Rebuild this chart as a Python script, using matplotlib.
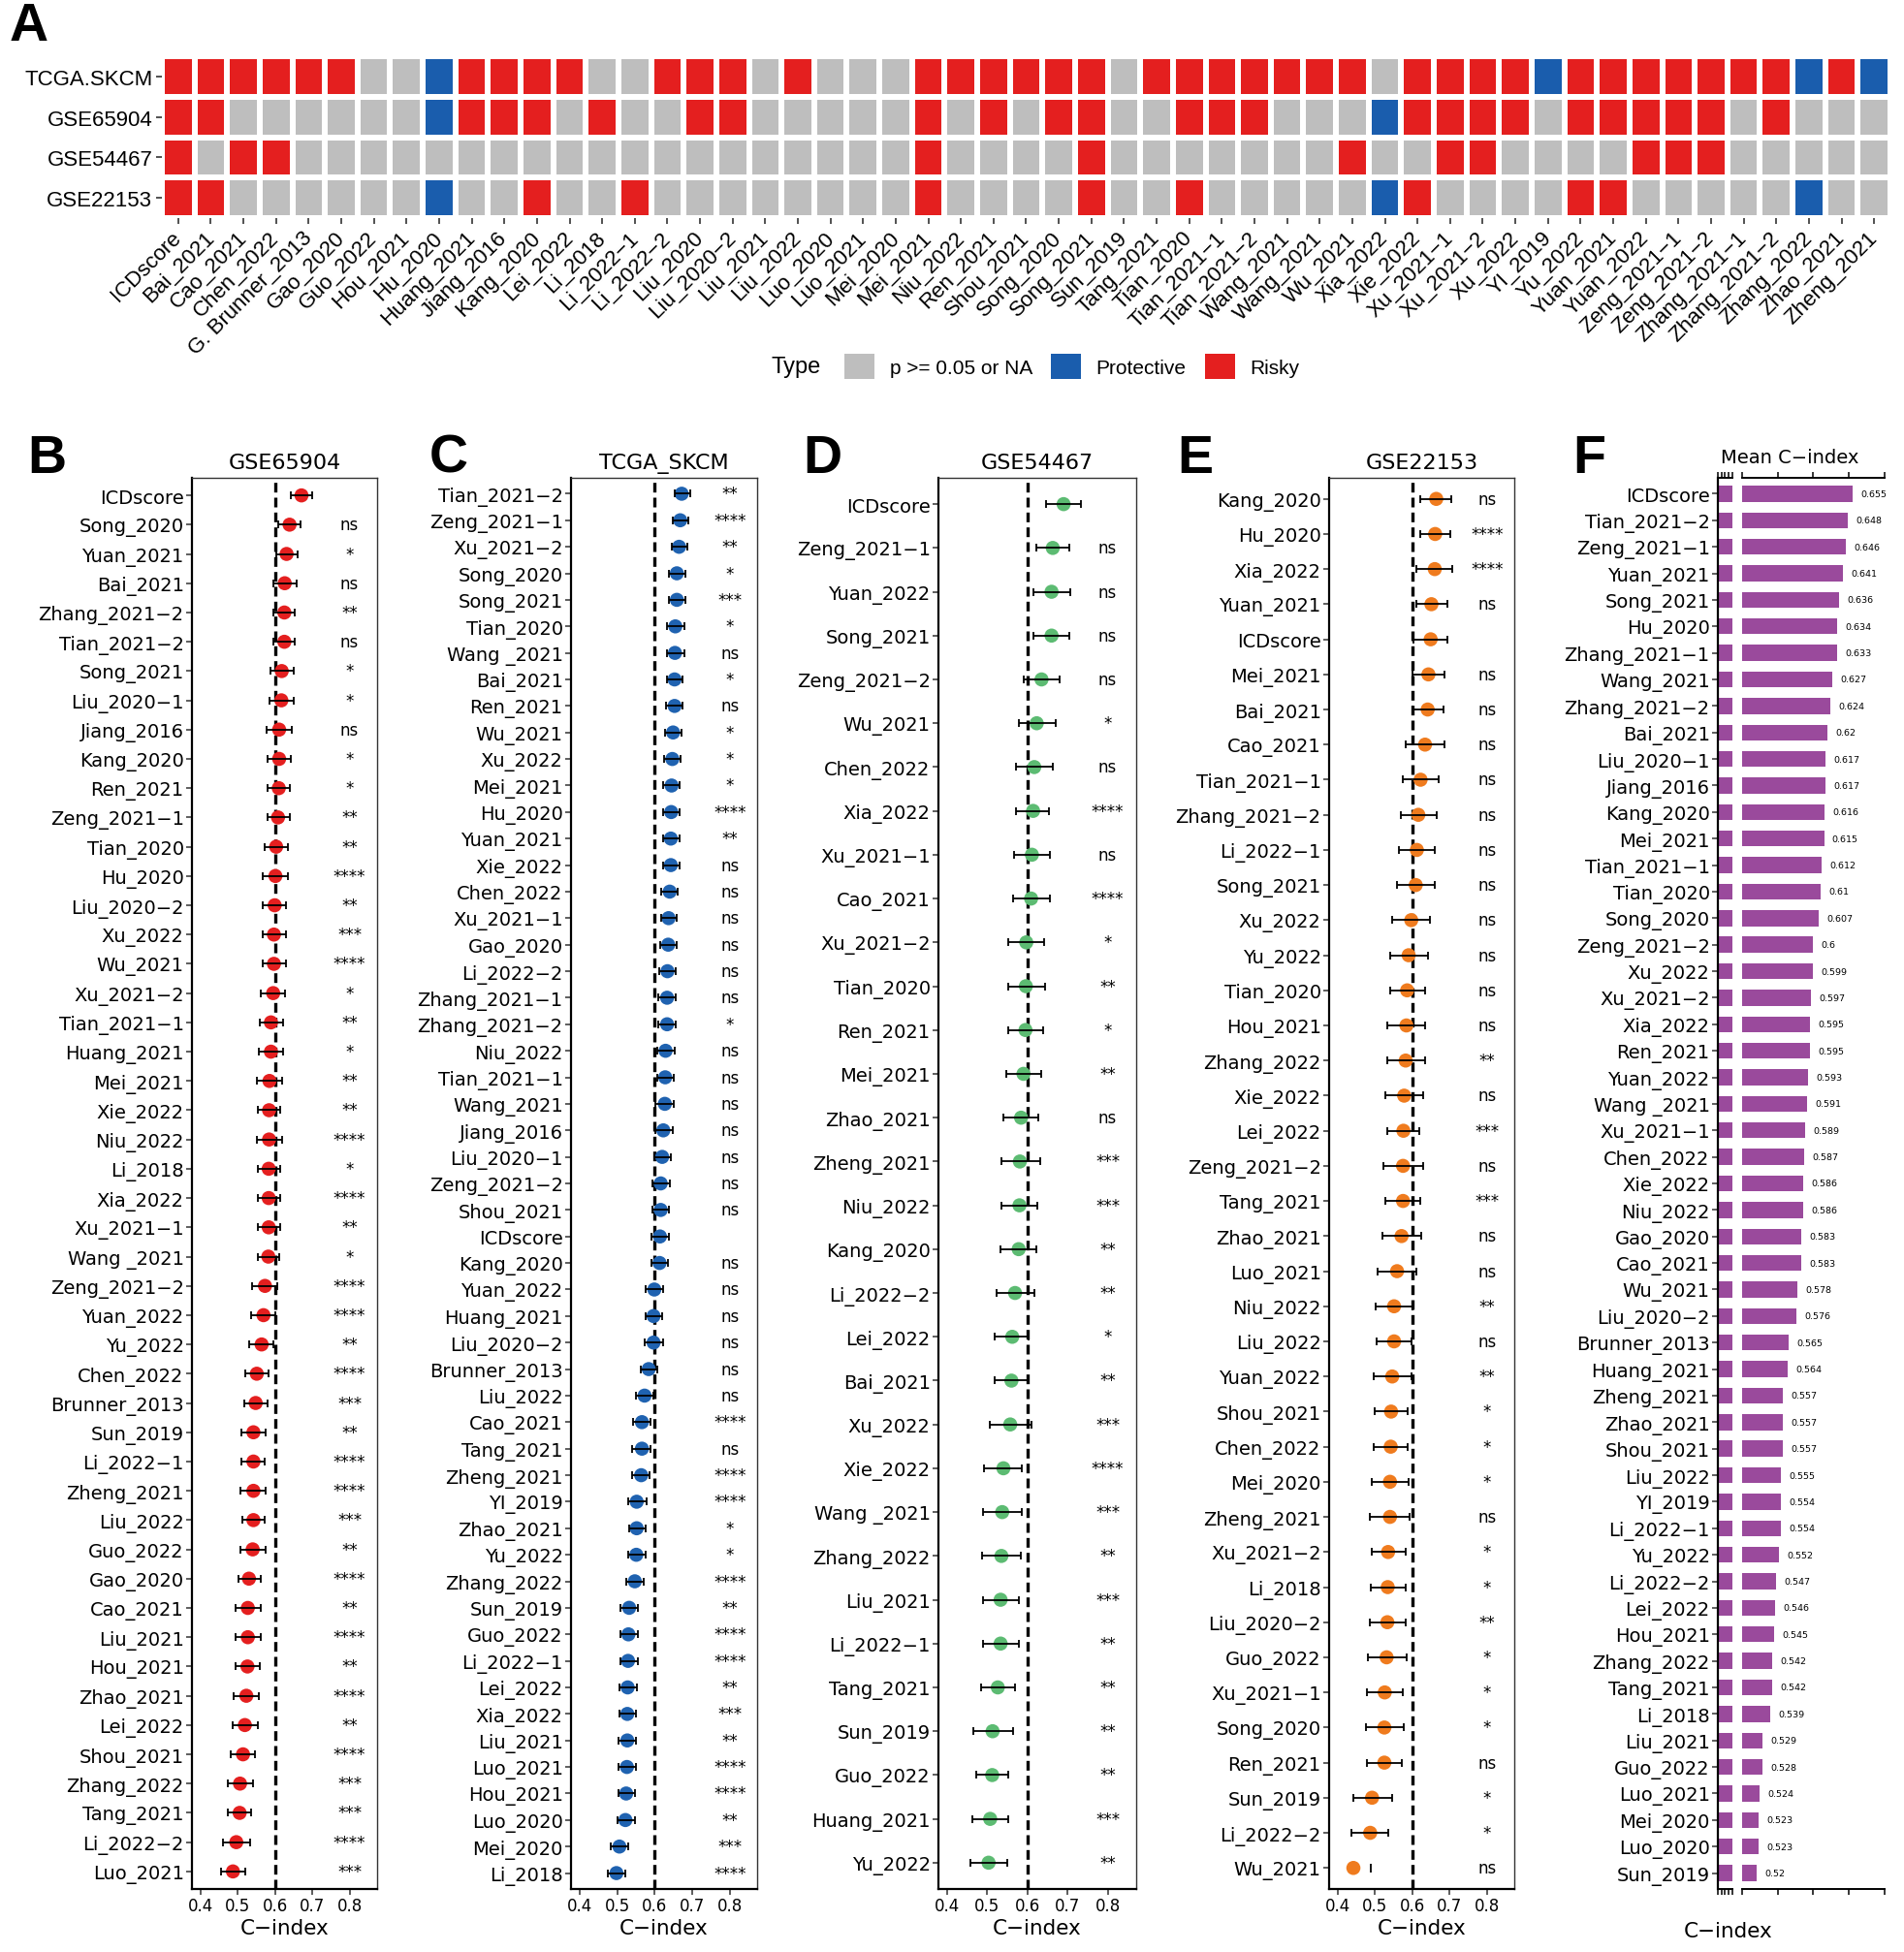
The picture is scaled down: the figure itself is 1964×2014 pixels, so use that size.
import numpy as np
import matplotlib
matplotlib.use("Agg")
import matplotlib.pyplot as plt
from matplotlib.colors import ListedColormap
from matplotlib.patches import Patch

plt.rcParams['font.family'] = ['DejaVu Sans']
ARIAL = 'Liberation Sans'

# ---- panel A: significance type of each model per cohort ----
hm_models = ["ICDscore", "Bai_2021", "Cao_2021", "Chen_2022", "G. Brunner_2013", "Gao_2020", "Guo_2022",
             "Hou_2021", "Hu_2020", "Huang_2021", "Jiang_2016", "Kang_2020", "Lei_2022", "Li_2018",
             "Li_2022-1", "Li_2022-2", "Liu_2020", "Liu_2020-2", "Liu_2021", "Liu_2022", "Luo_2020",
             "Luo_2021", "Mei_2020", "Mei_2021", "Niu_2022", "Ren_2021", "Shou_2021", "Song_2020",
             "Song_2021", "Sun_2019", "Tang_2021", "Tian_2020", "Tian_2021-1", "Tian_2021-2", "Wang_2021",
             "Wang_2021", "Wu_2021", "Xia_2022", "Xie_2022", "Xu_2021-1", "Xu_2021-2", "Xu_2022",
             "YI_2019", "Yu_2022", "Yuan_2021", "Yuan_2022", "Zeng_2021-1", "Zeng_2021-2",
             "Zhang_2021-1", "Zhang_2021-2", "Zhang_2022", "Zhao_2021", "Zheng_2021"]
hm_cohorts = ["TCGA.SKCM", "GSE65904", "GSE54467", "GSE22153"]
# G = p >= 0.05 or NA, B = Protective, R = Risky
tcga_type = "RRRRRRGGBRRRRGGRRRGRGGGRR" + "RRRRGRRRRRRRGRRRRBRRRRRRRBRB"
gse65904_type = "RRGGGGGGBRRRGRGGRRGGGGGRG" + "RGRRGGRRRGGGBRRRRGRRRRRGRGGG"
gse54467_type = "RGRRGGGGGGGGGGGGGGGGGGGRG" + "GGGRGGGGGGGRGGRRGGGGRRRGGGGG"
gse22153_type = "RRGGGGGGBGGRGGRGGGGGGGGRG" + "GGGRGGRGGGGGBRGGGGRRGGGGGBGG"
type_labels = ["p >= 0.05 or NA", "Protective", "Risky"]
type_colors = ["#BEBEBE", "#1A5DAD", "#E41F1F"]

# ---- panel B: GSE65904 ----
b_models = ["ICDscore", "Song_2020", "Yuan_2021", "Bai_2021", "Zhang_2021-2", "Tian_2021-2", "Song_2021",
            "Liu_2020-1", "Jiang_2016", "Kang_2020", "Ren_2021", "Zeng_2021-1", "Tian_2020", "Hu_2020",
            "Liu_2020-2", "Xu_2022", "Wu_2021", "Xu_2021-2", "Tian_2021-1", "Huang_2021", "Mei_2021",
            "Xie_2022", "Niu_2022", "Li_2018", "Xia_2022", "Xu_2021-1", "Wang _2021", "Zeng_2021-2",
            "Yuan_2022", "Yu_2022", "Chen_2022", "Brunner_2013", "Sun_2019", "Li_2022-1", "Zheng_2021",
            "Liu_2022", "Guo_2022", "Gao_2020", "Cao_2021", "Liu_2021", "Hou_2021", "Zhao_2021",
            "Lei_2022", "Shou_2021", "Zhang_2022", "Tang_2021", "Li_2022-2", "Luo_2021"]
b_cidx = [0.671, 0.639, 0.631, 0.626, 0.625, 0.625, 0.618, 0.617, 0.611, 0.611, 0.610, 0.608, 0.603, 0.601,
          0.599, 0.597, 0.597, 0.595, 0.589, 0.589, 0.585, 0.584, 0.584, 0.583, 0.583, 0.583, 0.582, 0.573,
          0.569, 0.564, 0.551, 0.548, 0.542, 0.542, 0.542, 0.542, 0.540, 0.530, 0.527, 0.527, 0.526, 0.523,
          0.519, 0.514, 0.506, 0.505, 0.496, 0.487]
b_low = [0.643, 0.609, 0.603, 0.596, 0.596, 0.596, 0.588, 0.585, 0.578, 0.580, 0.580, 0.579, 0.573, 0.568,
         0.568, 0.568, 0.566, 0.563, 0.558, 0.556, 0.551, 0.554, 0.552, 0.553, 0.553, 0.553, 0.553, 0.539,
         0.535, 0.531, 0.521, 0.517, 0.509, 0.511, 0.508, 0.512, 0.508, 0.501, 0.495, 0.495, 0.495, 0.490,
         0.487, 0.480, 0.473, 0.473, 0.461, 0.455]
b_high = [0.700, 0.669, 0.660, 0.658, 0.654, 0.654, 0.649, 0.649, 0.646, 0.643, 0.639, 0.639, 0.634, 0.634,
          0.630, 0.629, 0.630, 0.626, 0.621, 0.621, 0.620, 0.615, 0.618, 0.614, 0.613, 0.613, 0.611, 0.606,
          0.601, 0.596, 0.583, 0.579, 0.575, 0.573, 0.576, 0.572, 0.575, 0.562, 0.561, 0.561, 0.559, 0.556,
          0.553, 0.547, 0.540, 0.537, 0.532, 0.520]
b_sig = ["", "ns", "*", "ns", "**", "ns", "*", "*", "ns", "*", "*", "**", "**", "****", "**", "***", "****",
         "*", "**", "*", "**", "**", "****", "*", "****", "**", "*", "****", "****", "**", "****", "***", "**",
         "****", "****", "***", "**", "****", "**", "****", "**", "****", "**", "****", "***", "***", "****",
         "***"]

# ---- panel C: TCGA_SKCM ----
c_models = ["Tian_2021-2", "Zeng_2021-1", "Xu_2021-2", "Song_2020", "Song_2021", "Tian_2020", "Wang _2021",
            "Bai_2021", "Ren_2021", "Wu_2021", "Xu_2022", "Mei_2021", "Hu_2020", "Yuan_2021", "Xie_2022",
            "Chen_2022", "Xu_2021-1", "Gao_2020", "Li_2022-2", "Zhang_2021-1", "Zhang_2021-2", "Niu_2022",
            "Tian_2021-1", "Wang_2021", "Jiang_2016", "Liu_2020-1", "Zeng_2021-2", "Shou_2021", "ICDscore",
            "Kang_2020", "Yuan_2022", "Huang_2021", "Liu_2020-2", "Brunner_2013", "Liu_2022", "Cao_2021",
            "Tang_2021", "Zheng_2021", "YI_2019", "Zhao_2021", "Yu_2022", "Zhang_2022", "Sun_2019",
            "Guo_2022", "Li_2022-1", "Lei_2022", "Xia_2022", "Liu_2021", "Luo_2021", "Hou_2021",
            "Luo_2020", "Mei_2020", "Li_2018"]
c_cidx = [0.672, 0.668, 0.665, 0.659, 0.659, 0.655, 0.654, 0.653, 0.653, 0.649, 0.647, 0.645, 0.644, 0.643,
          0.643, 0.640, 0.637, 0.636, 0.634, 0.633, 0.633, 0.629, 0.628, 0.627, 0.623, 0.620, 0.616, 0.616,
          0.614, 0.613, 0.599, 0.597, 0.597, 0.584, 0.573, 0.566, 0.566, 0.564, 0.552, 0.552, 0.551, 0.547,
          0.532, 0.530, 0.529, 0.528, 0.527, 0.527, 0.526, 0.524, 0.522, 0.506, 0.498]
c_low = [0.653, 0.648, 0.645, 0.637, 0.637, 0.634, 0.633, 0.633, 0.631, 0.628, 0.625, 0.623, 0.622, 0.622,
         0.622, 0.618, 0.616, 0.615, 0.612, 0.610, 0.610, 0.608, 0.606, 0.603, 0.602, 0.598, 0.595, 0.595,
         0.592, 0.591, 0.576, 0.576, 0.573, 0.562, 0.551, 0.543, 0.541, 0.541, 0.530, 0.532, 0.529, 0.525,
         0.510, 0.508, 0.508, 0.505, 0.506, 0.503, 0.504, 0.503, 0.501, 0.484, 0.476]
c_high = [0.694, 0.690, 0.688, 0.682, 0.683, 0.678, 0.678, 0.675, 0.675, 0.672, 0.668, 0.666, 0.667, 0.666,
          0.666, 0.662, 0.659, 0.659, 0.657, 0.656, 0.656, 0.653, 0.651, 0.650, 0.647, 0.643, 0.640, 0.638,
          0.638, 0.636, 0.622, 0.621, 0.622, 0.608, 0.596, 0.588, 0.588, 0.586, 0.579, 0.577, 0.576, 0.571,
          0.556, 0.556, 0.554, 0.553, 0.551, 0.551, 0.550, 0.548, 0.547, 0.529, 0.522]
c_sig = ["**", "****", "**", "*", "***", "*", "ns", "*", "ns", "*", "*", "*", "****", "**", "ns", "ns", "ns",
         "ns", "ns", "ns", "*", "ns", "ns", "ns", "ns", "ns", "ns", "ns", "", "ns", "ns", "ns", "ns", "ns",
         "ns", "****", "ns", "****", "****", "*", "*", "****", "**", "****", "****", "**", "***", "**",
         "****", "****", "**", "***", "****"]

# ---- panel D: GSE54467 ----
d_models = ["ICDscore", "Zeng_2021-1", "Yuan_2022", "Song_2021", "Zeng_2021-2", "Wu_2021", "Chen_2022",
            "Xia_2022", "Xu_2021-1", "Cao_2021", "Xu_2021-2", "Tian_2020", "Ren_2021", "Mei_2021",
            "Zhao_2021", "Zheng_2021", "Niu_2022", "Kang_2020", "Li_2022-2", "Lei_2022", "Bai_2021",
            "Xu_2022", "Xie_2022", "Wang _2021", "Zhang_2022", "Liu_2021", "Li_2022-1", "Tang_2021",
            "Sun_2019", "Guo_2022", "Huang_2021", "Yu_2022"]
d_cidx = [0.690, 0.663, 0.660, 0.660, 0.635, 0.623, 0.617, 0.614, 0.611, 0.609, 0.597, 0.596, 0.595, 0.590,
          0.584, 0.581, 0.580, 0.578, 0.569, 0.562, 0.560, 0.557, 0.540, 0.537, 0.535, 0.533, 0.533, 0.526,
          0.513, 0.512, 0.507, 0.503]
d_low = [0.647, 0.622, 0.616, 0.616, 0.590, 0.578, 0.572, 0.572, 0.566, 0.565, 0.553, 0.552, 0.552, 0.547,
         0.541, 0.535, 0.534, 0.533, 0.523, 0.519, 0.518, 0.505, 0.492, 0.490, 0.486, 0.488, 0.488, 0.485,
         0.464, 0.472, 0.463, 0.457]
d_high = [0.733, 0.705, 0.707, 0.705, 0.680, 0.670, 0.664, 0.653, 0.657, 0.655, 0.641, 0.643, 0.640, 0.634,
          0.628, 0.631, 0.625, 0.623, 0.618, 0.603, 0.600, 0.609, 0.587, 0.585, 0.584, 0.578, 0.578, 0.569,
          0.563, 0.552, 0.551, 0.549]
d_sig = ["", "ns", "ns", "ns", "ns", "*", "ns", "****", "ns", "****", "*", "**", "*", "**", "ns", "***",
         "***", "**", "**", "*", "**", "***", "****", "***", "**", "***", "**", "**", "**", "**", "***", "**"]

# ---- panel E: GSE22153 ----
e_models = ["Kang_2020", "Hu_2020", "Xia_2022", "Yuan_2021", "ICDscore", "Mei_2021", "Bai_2021", "Cao_2021",
            "Tian_2021-1", "Zhang_2021-2", "Li_2022-1", "Song_2021", "Xu_2022", "Yu_2022", "Tian_2020",
            "Hou_2021", "Zhang_2022", "Xie_2022", "Lei_2022", "Zeng_2021-2", "Tang_2021", "Zhao_2021",
            "Luo_2021", "Niu_2022", "Liu_2022", "Yuan_2022", "Shou_2021", "Chen_2022", "Mei_2020",
            "Zheng_2021", "Xu_2021-2", "Li_2018", "Liu_2020-2", "Guo_2022", "Xu_2021-1", "Song_2020",
            "Ren_2021", "Sun_2019", "Li_2022-2", "Wu_2021"]
e_cidx = [0.664, 0.661, 0.660, 0.651, 0.649, 0.643, 0.641, 0.634, 0.622, 0.616, 0.612, 0.609, 0.597, 0.590,
          0.586, 0.584, 0.582, 0.578, 0.576, 0.575, 0.575, 0.571, 0.559, 0.551, 0.551, 0.546, 0.543, 0.542,
          0.540, 0.540, 0.535, 0.534, 0.533, 0.531, 0.526, 0.525, 0.525, 0.492, 0.487, 0.442]
e_low = [0.622, 0.622, 0.612, 0.611, 0.603, 0.600, 0.600, 0.581, 0.575, 0.569, 0.563, 0.560, 0.546, 0.541,
         0.540, 0.534, 0.533, 0.527, 0.534, 0.522, 0.528, 0.519, 0.506, 0.501, 0.505, 0.497, 0.500, 0.496,
         0.490, 0.487, 0.490, 0.488, 0.485, 0.480, 0.478, 0.476, 0.478, 0.441, 0.438, np.nan]
e_high = [0.705, 0.701, 0.706, 0.694, 0.694, 0.687, 0.684, 0.685, 0.670, 0.666, 0.659, 0.660, 0.647, 0.641,
          0.635, 0.634, 0.634, 0.628, 0.619, 0.630, 0.621, 0.624, 0.610, 0.601, 0.598, 0.597, 0.588, 0.588,
          0.590, 0.593, 0.581, 0.581, 0.582, 0.584, 0.575, 0.577, 0.573, 0.545, 0.536, 0.489]
e_sig = ["ns", "****", "****", "ns", "", "ns", "ns", "ns", "ns", "ns", "ns", "ns", "ns", "ns", "ns", "ns",
         "**", "ns", "***", "ns", "***", "ns", "ns", "**", "ns", "**", "*", "*", "*", "ns", "*", "*", "**",
         "*", "*", "*", "ns", "*", "*", "ns"]

# ---- panel F: mean C-index ----
f_models = ["ICDscore", "Tian_2021-2", "Zeng_2021-1", "Yuan_2021", "Song_2021", "Hu_2020", "Zhang_2021-1",
            "Wang_2021", "Zhang_2021-2", "Bai_2021", "Liu_2020-1", "Jiang_2016", "Kang_2020", "Mei_2021",
            "Tian_2021-1", "Tian_2020", "Song_2020", "Zeng_2021-2", "Xu_2022", "Xu_2021-2", "Xia_2022",
            "Ren_2021", "Yuan_2022", "Wang _2021", "Xu_2021-1", "Chen_2022", "Xie_2022", "Niu_2022",
            "Gao_2020", "Cao_2021", "Wu_2021", "Liu_2020-2", "Brunner_2013", "Huang_2021", "Zheng_2021",
            "Zhao_2021", "Shou_2021", "Liu_2022", "YI_2019", "Li_2022-1", "Yu_2022", "Li_2022-2",
            "Lei_2022", "Hou_2021", "Zhang_2022", "Tang_2021", "Li_2018", "Liu_2021", "Guo_2022",
            "Luo_2021", "Mei_2020", "Luo_2020", "Sun_2019"]
f_mean = [0.655, 0.648, 0.646, 0.641, 0.636, 0.634, 0.633, 0.627, 0.624, 0.62, 0.617, 0.617, 0.616, 0.615,
          0.612, 0.61, 0.607, 0.6, 0.599, 0.597, 0.595, 0.595, 0.593, 0.591, 0.589, 0.587, 0.586, 0.586,
          0.583, 0.583, 0.578, 0.576, 0.565, 0.564, 0.557, 0.557, 0.557, 0.555, 0.554, 0.554, 0.552, 0.547,
          0.546, 0.545, 0.542, 0.542, 0.539, 0.529, 0.528, 0.524, 0.523, 0.523, 0.52]

W, H = 1965, 2015
fig = plt.figure(figsize=(W / 100, H / 100), dpi=100)


def px_axes(left, top, right, bottom):
    return fig.add_axes([left / W, 1 - bottom / H, (right - left) / W, (bottom - top) / H])


def minus(s):
    return s.replace('-', '\u2212')


def letter(txt, x, y):
    fig.text(x / W, 1 - y / H, txt, fontsize=40, fontweight='bold', family=ARIAL, va='center', ha='left')


# ---------------- A ----------------
ax = px_axes(167, 59, 1950, 226)
code = {"G": 0, "B": 1, "R": 2}
mat = np.array([[code[ch] for ch in row] for row in [tcga_type, gse65904_type, gse54467_type, gse22153_type]])
ax.pcolormesh(mat, cmap=ListedColormap(type_colors), vmin=-0.5, vmax=2.5, edgecolors='white', linewidth=3)
ax.set_xlim(0, len(hm_models))
ax.set_ylim(len(hm_cohorts), 0)
ax.set_xticks(np.arange(len(hm_models)) + 0.5)
ax.set_xticklabels([minus(m) for m in hm_models], rotation=45, ha='right', va='center',
                   rotation_mode='anchor', fontsize=16, family=ARIAL)
ax.set_yticks(np.arange(len(hm_cohorts)) + 0.5)
ax.set_yticklabels(hm_cohorts, fontsize=16, family=ARIAL)
ax.tick_params(length=4, width=1.2, color='#333333', pad=3)
ax.tick_params(axis='x', pad=8)
for s in ax.spines.values():
    s.set_visible(False)
handles = [Patch(facecolor=c, edgecolor='none') for c in type_colors]
ax.legend(handles, type_labels, loc='center left', bbox_to_anchor=(871 / W, 1 - 379 / H),
          bbox_transform=fig.transFigure, ncol=3, frameon=False, prop={'family': ARIAL, 'size': 15},
          handlelength=1.5, handleheight=1.5, handletextpad=0.75, columnspacing=0.9,
          borderpad=0, borderaxespad=0)
fig.text(796 / W, 1 - 379 / H, "Type", fontsize=17, family=ARIAL, va='center', ha='left')
letter("A", 10, 28)


# ---------------- B-E ----------------
def forest(ax, models, cidx, low, high, sig, color, title, xlim):
    n = len(models)
    y = np.arange(1, n + 1)
    cidx = np.array(cidx)
    low = np.array(low, dtype=float)
    high = np.array(high, dtype=float)
    ax.axvline(0.6, color='black', lw=2.4, ls=(0, (3, 1.6)), zorder=1)
    ax.scatter(cidx, y, s=110, color=color, edgecolors='none', zorder=2)
    ok = ~np.isnan(low)
    ax.errorbar(cidx[ok], y[ok], xerr=[cidx[ok] - low[ok], high[ok] - cidx[ok]], fmt='none',
                ecolor='black', elinewidth=1.3, capsize=3.2, capthick=1.3, zorder=3)
    # lower bound off the axis: only the upper cap is left
    ax.vlines(high[~ok], y[~ok] - 0.12, y[~ok] + 0.12, color='black', lw=1.3, zorder=3)
    for yy, s in zip(y, sig):
        ax.text(0.8, yy, s, ha='center', va='center', fontsize=12)
    ax.set_ylim(n + 0.6, 0.4)
    ax.set_xlim(xlim)
    ax.set_yticks(y)
    ax.set_yticklabels([minus(m) for m in models], fontsize=14)
    ax.set_xticks([0.4, 0.5, 0.6, 0.7, 0.8])
    ax.set_xticklabels(['0.4', '0.5', '0.6', '0.7', '0.8'], fontsize=12)
    ax.tick_params(length=4, width=1.1, color='#333333', pad=2)
    ax.set_xlabel('C\u2212index', fontsize=15.5, labelpad=3)
    ax.set_title(title, fontsize=16, pad=7)
    for side in ['left', 'bottom']:
        ax.spines[side].set_linewidth(1.6)
    for side in ['top', 'right']:
        ax.spines[side].set_linewidth(1.0)
        ax.spines[side].set_color('#333333')


forest(px_axes(198, 494, 389, 1950), b_models, b_cidx, b_low, b_high, b_sig, '#E41F1F', 'GSE65904',
       (0.377, 0.874))
letter("B", 28, 474)
forest(px_axes(589, 494, 781, 1950), c_models, c_cidx, c_low, c_high, c_sig, '#1F62B0', 'TCGA_SKCM',
       (0.377, 0.873))
letter("C", 443, 474)
forest(px_axes(968, 494, 1172, 1950), d_models, d_cidx, d_low, d_high, d_sig, '#5CBB72', 'GSE54467',
       (0.378, 0.871))
letter("D", 828, 474)
forest(px_axes(1371, 494, 1562, 1950), e_models, e_cidx, e_low, e_high, e_sig, '#EF7B1E', 'GSE22153',
       (0.377, 0.873))
letter("E", 1214, 474)

# ---------------- F (broken axis) ----------------
purple = '#9A4A9C'
yf = np.arange(1, len(f_models) + 1)
ax_s = px_axes(1772, 494, 1787, 1950)
ax_b = px_axes(1797, 494, 1944, 1950)
for a in (ax_s, ax_b):
    a.barh(yf, f_mean, height=0.6, color=purple)
    a.set_ylim(len(f_models) + 0.6, 0.4)
    a.tick_params(axis='x', top=True, bottom=True, labelbottom=False, length=4, width=1.1)
    a.spines['right'].set_visible(False)
    for side in ['top', 'bottom']:
        a.spines[side].set_linewidth(1.4)
ax_s.set_xlim(0, 0.4)
ax_s.set_xticks([0, 0.1, 0.2, 0.3, 0.4])
ax_s.spines['left'].set_linewidth(1.6)
ax_s.set_yticks(yf)
ax_s.set_yticklabels([minus(m) for m in f_models], fontsize=14)
ax_s.tick_params(axis='y', length=4, width=1.1, color='#333333', pad=2)
ax_b.set_xlim(0.5, 0.7)
ax_b.set_xticks([0.5, 0.55, 0.6, 0.65, 0.7])
ax_b.set_yticks([])
ax_b.spines['left'].set_visible(False)
for yy, v in zip(yf, f_mean):
    ax_b.annotate(str(v), xy=(v, yy), xytext=(6, 0), textcoords='offset points', va='center', fontsize=6.8)
fig.text(1846 / W, 1 - 472 / H, 'Mean C\u2212index', fontsize=14, ha='center', va='center')
fig.text(1783 / W, 1 - 1993 / H, 'C\u2212index', fontsize=15.5, ha='center', va='center')
letter("F", 1622, 474)

fig.savefig('out.png', dpi=100)
